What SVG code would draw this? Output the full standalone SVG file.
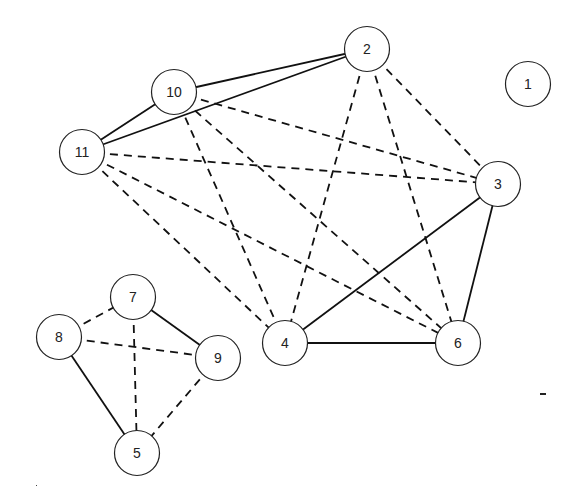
<svg xmlns="http://www.w3.org/2000/svg" width="568" height="487" viewBox="0 0 568 487">
<style>
.n circle{fill:#fff;stroke:#222;stroke-width:1.2}
.n text{font-family:"Liberation Sans",Arial,sans-serif;font-size:14px;fill:#222;text-anchor:middle;dominant-baseline:central}
.e line{stroke:#111;stroke-width:1.8}
.e .d{stroke-dasharray:8,6}
</style>
<rect width="568" height="487" fill="#fff"/>
<g id="edges" class="e">
<line x1="174" y1="92" x2="367" y2="49"/>
<line x1="82" y1="152" x2="367" y2="49"/>
<line x1="82" y1="152" x2="174" y2="92"/>
<line x1="498" y1="184" x2="285" y2="343"/>
<line x1="498" y1="184" x2="458" y2="343"/>
<line x1="285" y1="343" x2="458" y2="343"/>
<line x1="133" y1="297" x2="218" y2="358"/>
<line x1="59" y1="337" x2="137" y2="453"/>
<line class="d" x1="367" y1="49" x2="285" y2="343"/>
<line class="d" x1="367" y1="49" x2="458" y2="343"/>
<line class="d" x1="367" y1="49" x2="498" y2="184"/>
<line class="d" x1="174" y1="92" x2="498" y2="184"/>
<line class="d" x1="174" y1="92" x2="285" y2="343"/>
<line class="d" x1="174" y1="92" x2="458" y2="343"/>
<line class="d" x1="82" y1="152" x2="498" y2="184"/>
<line class="d" x1="82" y1="152" x2="285" y2="343"/>
<line class="d" x1="82" y1="152" x2="458" y2="343"/>
<line class="d" x1="59" y1="337" x2="133" y2="297"/>
<line class="d" x1="59" y1="337" x2="218" y2="358"/>
<line class="d" x1="133" y1="297" x2="137" y2="453"/>
<line class="d" x1="218" y1="358" x2="137" y2="453"/>
</g>
<g id="n1" class="n"><circle cx="528" cy="84" r="22.5"/><text x="528" y="84">1</text></g>
<g id="n2" class="n"><circle cx="367" cy="49" r="22.5"/><text x="367" y="49">2</text></g>
<g id="n3" class="n"><circle cx="498" cy="184" r="22.5"/><text x="498" y="184">3</text></g>
<g id="n4" class="n"><circle cx="285" cy="343" r="22.5"/><text x="285" y="343">4</text></g>
<g id="n5" class="n"><circle cx="137" cy="453" r="22.5"/><text x="137" y="453">5</text></g>
<g id="n6" class="n"><circle cx="458" cy="343" r="22.5"/><text x="458" y="343">6</text></g>
<g id="n7" class="n"><circle cx="133" cy="297" r="22.5"/><text x="133" y="297">7</text></g>
<g id="n8" class="n"><circle cx="59" cy="337" r="22.5"/><text x="59" y="337">8</text></g>
<g id="n9" class="n"><circle cx="218" cy="358" r="22.5"/><text x="218" y="358">9</text></g>
<g id="n10" class="n"><circle cx="174" cy="92" r="22.5"/><text x="174" y="92">10</text></g>
<g id="n11" class="n"><circle cx="82" cy="152" r="22.5"/><text x="82" y="152">11</text></g>
<rect x="540" y="393" width="6" height="2" fill="#222"/>
<rect x="36" y="485" width="1" height="1" fill="#444"/>
</svg>
